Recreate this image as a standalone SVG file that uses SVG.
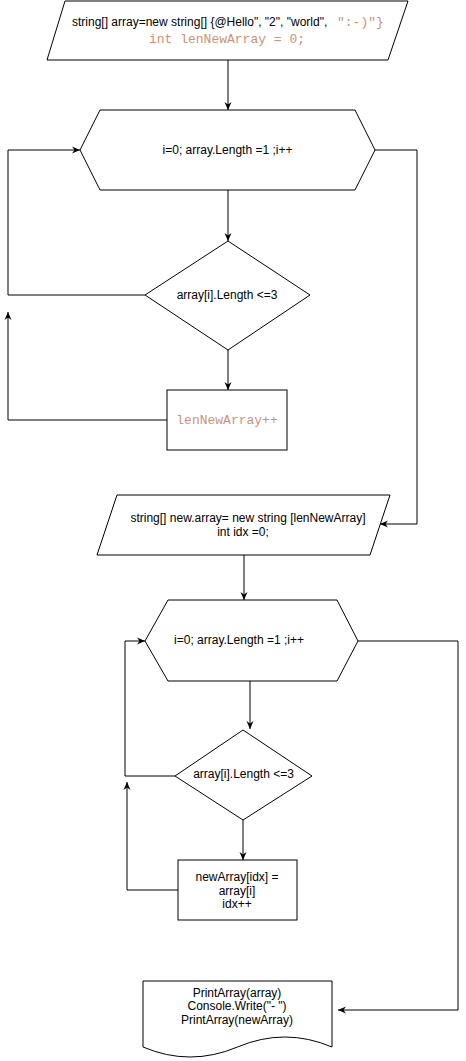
<svg xmlns="http://www.w3.org/2000/svg" width="466" height="1061" viewBox="0 0 466 1061">
<style>
.shape{fill:#ffffff;stroke:#000000;stroke-width:1}
.lbl{font-family:"Liberation Sans",Arial,sans-serif;font-size:12px;fill:#000000;text-anchor:middle}
.mono{font-family:"Liberation Mono","DejaVu Sans Mono",monospace;font-size:13px;fill:#CE9178}
.edge{fill:none;stroke:#000000;stroke-width:1;marker-end:url(#arrow)}
</style>
<defs>
<marker id="arrow" markerUnits="userSpaceOnUse" markerWidth="10" markerHeight="10" refX="8" refY="4" orient="auto">
<path d="M0,0.5 L8,4 L0,7.5 L2.5,4 Z" fill="#000000"/>
</marker>
</defs>
<rect width="466" height="1061" fill="#ffffff"/>
<g id="connectors">
<path class="edge" d="M228,60 V110"/>
<path class="edge" d="M228,190 V241"/>
<path class="edge" d="M145,295 H8 V150 H80"/>
<path class="edge" d="M228,350 V390"/>
<path class="edge" d="M167,420 H8 V312"/>
<path class="edge" d="M375,150 H417 V524 H380"/>
<path class="edge" d="M244,555 V600"/>
<path class="edge" d="M175,776 H125 V641 H145"/>
<path class="edge" d="M250,681 V729"/>
<path class="edge" d="M243,820 V860"/>
<path class="edge" d="M178,890 H127 V782"/>
<path class="edge" d="M358,641 H458 V1010 H338"/>
</g>
<g id="init">
<polygon class="shape" points="65,1 408,1 388,60 47,60"/>
<text class="lbl" x="72" y="26" style="text-anchor:start">string[] array=new string[] {@Hello", "2", "world", </text>
<text class="mono" x="337" y="26">":-)"}</text>
<text class="mono" x="227" y="43" text-anchor="middle">int lenNewArray = 0;</text>
</g>
<g id="loop1">
<polygon class="shape" points="100,110 355,110 375,150 355,190 100,190 80,150"/>
<text class="lbl" x="227.5" y="154">i=0; array.Length =1 ;i++</text>
</g>
<g id="cond1">
<polygon class="shape" points="228,241 310,295 228,350 145,295"/>
<text class="lbl" x="227" y="299">array[i].Length &lt;=3</text>
</g>
<g id="inc">
<rect class="shape" x="167" y="390" width="120" height="60"/>
<text class="mono" x="227" y="424" text-anchor="middle">lenNewArray++</text>
</g>
<g id="alloc">
<polygon class="shape" points="117,495 390,495 370,555 97,555"/>
<text class="lbl" x="248" y="522">string[] new.array= new string [lenNewArray]</text>
<text class="lbl" x="243" y="536">int idx =0;</text>
</g>
<g id="loop2">
<polygon class="shape" points="168,600 337,600 358,641 337,681 168,681 145,641"/>
<text class="lbl" x="239" y="644">i=0; array.Length =1 ;i++</text>
</g>
<g id="cond2">
<polygon class="shape" points="243,730 312,776 243,820 175,776"/>
<text class="lbl" x="243.5" y="778">array[i].Length &lt;=3</text>
</g>
<g id="copy">
<rect class="shape" x="178" y="860" width="119" height="60"/>
<text class="lbl" x="237" y="881">newArray[idx] =</text>
<text class="lbl" x="237" y="895">array[i]</text>
<text class="lbl" x="237" y="908">idx++</text>
</g>
<g id="print">
<path class="shape" d="M143,981 H332 V1047 Q285,1027 237.5,1047 Q190,1067 143,1047 Z"/>
<text class="lbl" x="237" y="997">PrintArray(array)</text>
<text class="lbl" x="237" y="1010">Console.Write("- ")</text>
<text class="lbl" x="237" y="1024">PrintArray(newArray)</text>
</g>
</svg>
